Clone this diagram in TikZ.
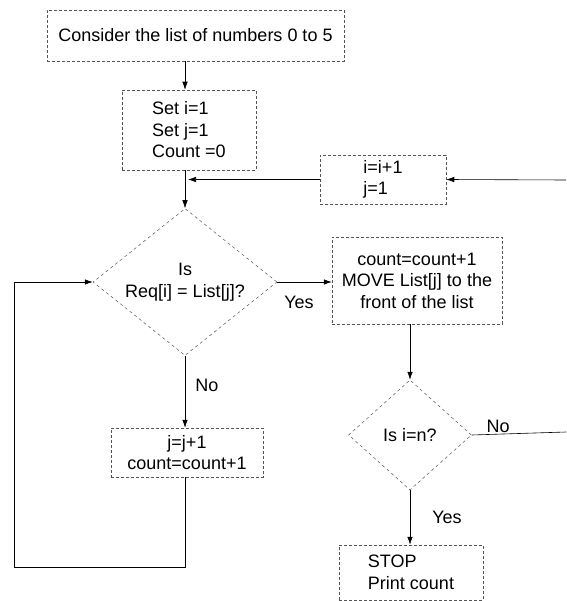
\documentclass[tikz,border=0pt]{standalone}
\usepackage{fontspec}
\setmainfont{Liberation Sans}
\usetikzlibrary{arrows.meta, calc, shapes.geometric}
\definecolor{boxgray}{HTML}{555555}

\begin{document}
\begin{tikzpicture}[x=1pt, y=-1pt,
        every node/.style={font=\fontsize{18}{21.5}\selectfont},
        procbox/.style={draw=boxgray, densely dashed, line width=0.5pt, rectangle, inner sep=0pt},
        decision/.style={draw=boxgray, dashed, line width=0.5pt, diamond, aspect=1.25, inner sep=0pt, align=center},
        flow/.style={line width=0.6pt, -{Latex[length=8pt,width=5.5pt]}}]
            \useasboundingbox (0,0) rectangle (566,601);

            \node[procbox, minimum width=297pt, minimum height=51pt] (start) at (195.5,35.5) {Consider the list of numbers 0 to 5};
            \node[procbox, minimum width=134pt, minimum height=80pt, align=left] (init) at (189,130) {Set i=1\\Set j=1\\Count =0};
            \node[procbox, minimum width=126pt, minimum height=49pt, align=left] (incr) at (383,179.5) {i=i+1\\j=1};
            \node[decision, minimum width=184pt, minimum height=147pt] (same) at (185,282) {Is\\Req[i] = List[j]?};
            \node[procbox, minimum width=170pt, minimum height=87pt, align=center] (move) at (417,280.5) {count=count+1\\MOVE List[j] to the\\front of the list};
            \node[procbox, minimum width=152pt, minimum height=49pt, align=center] (jnext) at (187,452.5) {j=j+1\\count=count+1};
            \node[decision, minimum width=123pt, minimum height=110pt] (last) at (410,435) {Is i=n?};
            \node[procbox, minimum width=144pt, minimum height=55pt, align=left] (stop) at (411,572.5) {STOP\\Print count};

            \coordinate (rin) at (566,180);
            \coordinate (rout) at (566,432);
            \coordinate (loopbot) at (14,567);

            % main flow
            \draw[flow] (same.north |- start.south) -- (same.north |- init.north);
            \draw[flow] (same.north |- init.south) -- (same.north);
            \draw[flow] (rin) -- (incr.east);
            \draw[flow] (incr.west) -- ($(incr.west -| same.north) + (3,0)$);
            \draw[flow] (same.east) -- (same.east -| move.west);
            \draw[flow] (last.north |- move.south) -- (last.north);
            \draw[flow] (same.south) -- (same.south |- jnext.north);
            \draw[flow] (last.south) -- (last.south |- stop.north);
            \draw[line width=0.6pt] (last.east) -- (rout);

            % loop back to the test
            \draw[flow] (same.south |- jnext.south) |- (loopbot) |- (same.west);

            \node (yes1) at (299,302) {Yes};
            \node (no1) at (207,385) {No};
            \node (no2) at (498,426) {No};
            \node (yes2) at (447,517) {Yes};
        \end{tikzpicture}
\end{document}
